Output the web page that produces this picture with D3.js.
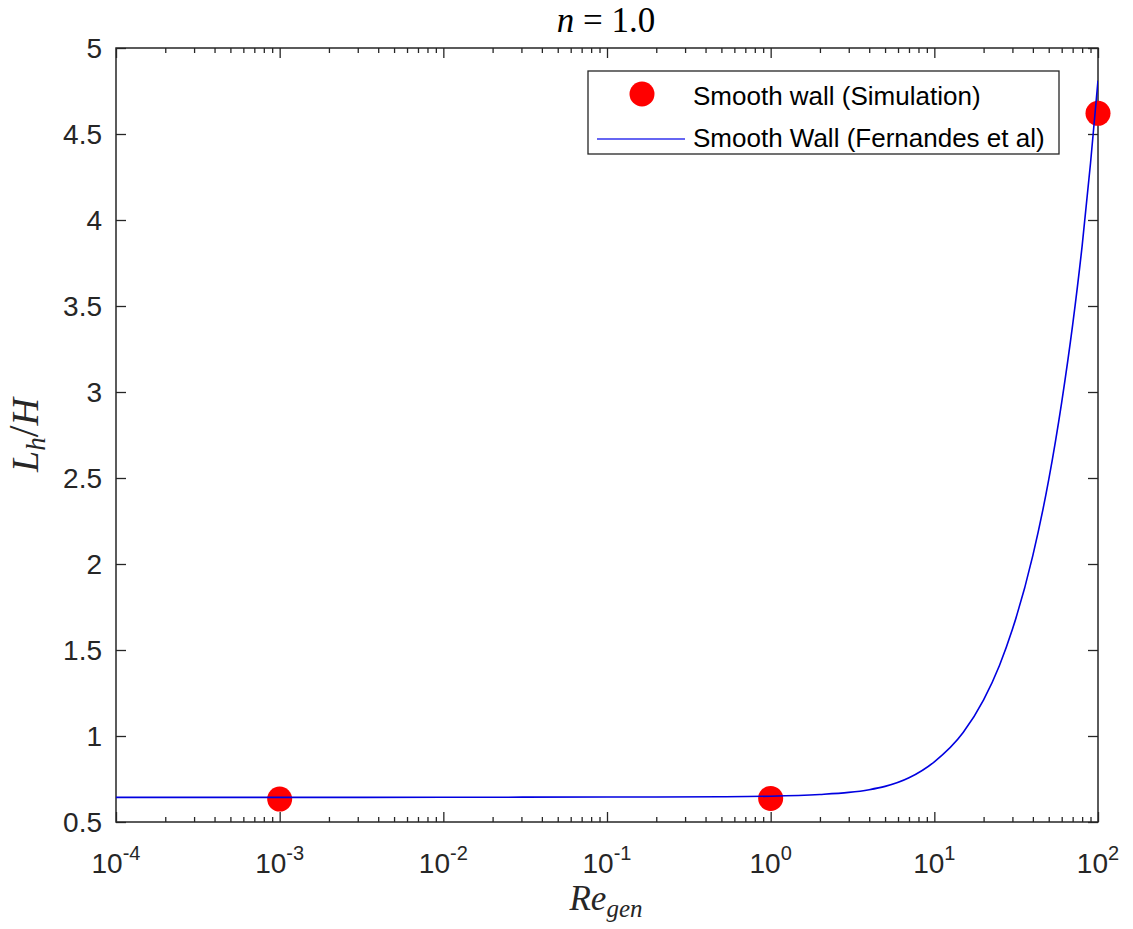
<!DOCTYPE html>
<html><head><meta charset="utf-8">
<script src="https://cdn.jsdelivr.net/npm/d3@7/dist/d3.min.js"></script>
<style>body{margin:0;background:#fff}svg{display:block}</style>
</head><body>
<svg id="c" width="1133" height="929"></svg>
<script>
// ---- data ----
const simRe = [1e-3, 1, 100];
const simL  = [0.633, 0.637, 4.62];
const corrRe = [1e-4, 1e-3, 1e-2, 1e-1, 0.5, 1, 2, 3, 4, 5, 7, 10, 15, 20, 25, 30, 40, 50, 60, 70, 80, 90, 100];
const corrL  = [0.643, 0.643, 0.644, 0.645, 0.647, 0.650, 0.66, 0.672, 0.688, 0.707, 0.757, 0.85, 1.02, 1.21, 1.41, 1.62, 2.05, 2.49, 2.94, 3.39, 3.85, 4.33, 4.81];
const xMajorExp = [-4, -3, -2, -1, 0, 1, 2];
const yTicks = [0.5, 1, 1.5, 2, 2.5, 3, 3.5, 4, 4.5, 5];
const yTickLabels = ["0.5", "1", "1.5", "2", "2.5", "3", "3.5", "4", "4.5", "5"];
const legendLabels = ["Smooth wall (Simulation)", "Smooth Wall (Fernandes et al)"];

// ---- layout ----
const L = 116, R = 1098, T = 48, B = 822;
const svg = d3.select("#c");
const x = d3.scaleLog().domain([1e-4, 1e2]).range([L, R]);
const y = d3.scaleLinear().domain([0.5, 5]).range([B, T]);
const axisCol = "#262626";
const sans = "'Liberation Sans', Arial, Helvetica, sans-serif";
const serif = "'Liberation Serif', 'Times New Roman', serif";

const majors = xMajorExp.map(e => Math.pow(10, e));
const minors = [];
for (let e = -4; e < 2; e++) for (let k = 2; k <= 9; k++) minors.push(k * Math.pow(10, e));

function styleAxis(g) {
  g.selectAll("path").remove();
  g.selectAll("line").attr("stroke", axisCol).attr("stroke-width", 1.3);
  g.selectAll("text").remove();
}
svg.append("g").attr("transform", `translate(0,${B})`)
  .call(d3.axisBottom(x).tickValues(majors).tickSizeInner(-10).tickSizeOuter(0).tickFormat("")).call(styleAxis);
svg.append("g").attr("transform", `translate(0,${B})`)
  .call(d3.axisBottom(x).tickValues(minors).tickSizeInner(-5).tickSizeOuter(0).tickFormat("")).call(styleAxis);
svg.append("g").attr("transform", `translate(0,${T})`)
  .call(d3.axisTop(x).tickValues(majors).tickSizeInner(-10).tickSizeOuter(0).tickFormat("")).call(styleAxis);
svg.append("g").attr("transform", `translate(0,${T})`)
  .call(d3.axisTop(x).tickValues(minors).tickSizeInner(-5).tickSizeOuter(0).tickFormat("")).call(styleAxis);
svg.append("g").attr("transform", `translate(${L},0)`)
  .call(d3.axisLeft(y).tickValues(yTicks).tickSizeInner(-10).tickSizeOuter(0).tickFormat("")).call(styleAxis);
svg.append("g").attr("transform", `translate(${R},0)`)
  .call(d3.axisRight(y).tickValues(yTicks).tickSizeInner(-10).tickSizeOuter(0).tickFormat("")).call(styleAxis);

svg.append("rect").attr("x", L).attr("y", T).attr("width", R - L).attr("height", B - T)
  .attr("fill", "none").attr("stroke", axisCol).attr("stroke-width", 1.5);

// y tick labels
svg.append("g").selectAll("text").data(yTicks).join("text")
  .attr("x", L - 14).attr("y", d => y(d) + 10)
  .attr("text-anchor", "end").attr("font-family", sans).attr("font-size", 28).attr("fill", "#262626")
  .text((d, i) => yTickLabels[i]);

// x tick labels with superscripts
const xl = svg.append("g");
xMajorExp.forEach(e => {
  const t = xl.append("text").attr("x", x(Math.pow(10, e))).attr("y", 873)
    .attr("text-anchor", "middle").attr("font-family", sans).attr("font-size", 28).attr("fill", "#262626");
  t.append("tspan").text("10");
  t.append("tspan").attr("dy", -13).attr("font-size", 20).text(String(e));
});

// title
const title = svg.append("text").attr("x", 606).attr("y", 32).attr("text-anchor", "middle")
  .attr("font-family", serif).attr("font-size", 35).attr("fill", "#000");
title.append("tspan").attr("font-style", "italic").text("n");
title.append("tspan").text(" = 1.0");

// x label
const xlab = svg.append("text").attr("x", 606).attr("y", 910).attr("text-anchor", "middle")
  .attr("font-family", serif).attr("font-size", 35).attr("font-style", "italic").attr("fill", "#262626");
xlab.append("tspan").text("Re");
xlab.append("tspan").attr("dy", 7).attr("font-size", 25).text("gen");

// y label
const ylab = svg.append("text").attr("transform", `translate(38,${(T + B) / 2}) rotate(-90)`)
  .attr("text-anchor", "middle").attr("font-family", serif).attr("font-size", 38).attr("fill", "#262626");
ylab.append("tspan").attr("font-style", "italic").text("L");
ylab.append("tspan").attr("font-style", "italic").attr("dy", 7).attr("font-size", 27).text("h");
ylab.append("tspan").attr("dy", -7).attr("font-size", 42).text("/");
ylab.append("tspan").attr("font-style", "italic").text("H");

svg.append("clipPath").attr("id", "pc").append("rect")
  .attr("x", L).attr("y", T).attr("width", R - L).attr("height", B - T);

// simulation points
svg.append("g").selectAll("circle").data(simRe).join("circle")
  .attr("cx", d => x(d)).attr("cy", (d, i) => y(simL[i])).attr("r", 12.5).attr("fill", "#ff0000");

// correlation curve
const line = d3.line().x(d => x(d[0])).y(d => y(d[1])).curve(d3.curveMonotoneX);
svg.append("path").datum(corrRe.map((r, i) => [r, corrL[i]]))
  .attr("d", line).attr("fill", "none").attr("stroke", "#0000e0").attr("stroke-width", 1.6)
  .attr("clip-path", "url(#pc)");

// legend
const lg = svg.append("g");
lg.append("rect").attr("x", 588).attr("y", 71).attr("width", 1059 - 588).attr("height", 154 - 71)
  .attr("fill", "#fff").attr("stroke", axisCol).attr("stroke-width", 1.3);
lg.append("circle").attr("cx", 642).attr("cy", 94).attr("r", 12.5).attr("fill", "#ff0000");
lg.append("line").attr("x1", 597).attr("x2", 685).attr("y1", 139).attr("y2", 139)
  .attr("stroke", "#3333ee").attr("stroke-width", 1.6);
lg.selectAll("text").data(legendLabels).join("text")
  .attr("x", 693).attr("y", (d, i) => [105, 147][i])
  .attr("font-family", sans).attr("font-size", 26).attr("fill", "#000").text(d => d);
</script>
</body></html>
